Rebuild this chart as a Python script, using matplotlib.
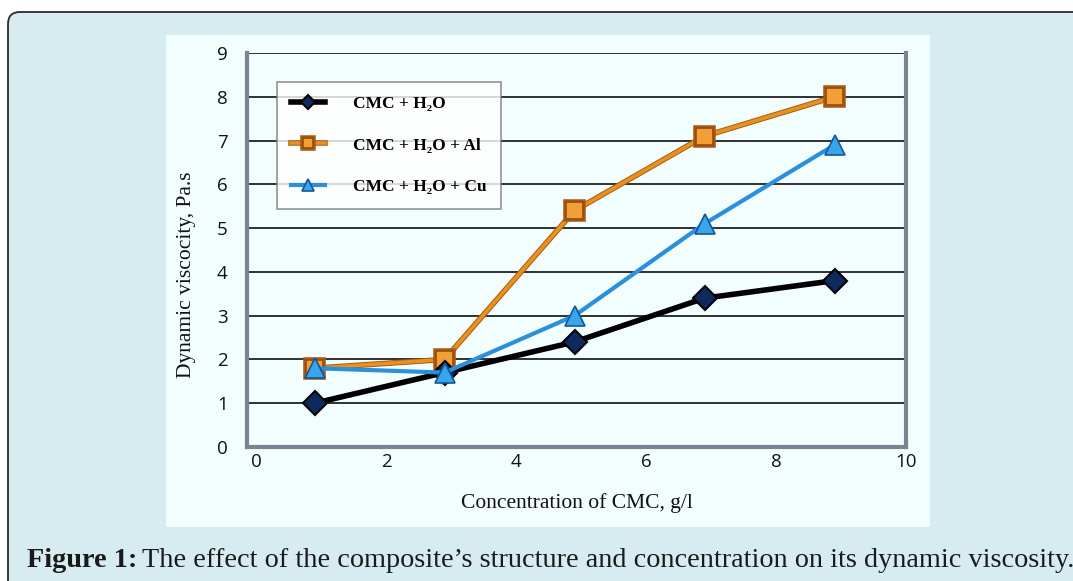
import matplotlib
matplotlib.use("Agg")
import matplotlib.pyplot as plt
import matplotlib.patheffects as pe
from matplotlib.patches import FancyBboxPatch, Rectangle
from matplotlib.transforms import IdentityTransform

# data
conc = [0.9, 2.9, 4.9, 6.9, 8.9]
visc_h2o = [1.0, 1.7, 2.4, 3.4, 3.8]
visc_al = [1.8, 2.0, 5.4, 7.1, 8.0]
visc_cu = [1.8, 1.7, 3.0, 5.1, 6.9]
labels = ["CMC + H₂O", "CMC + H₂O + Al", "CMC + H₂O + Cu"]
xticks = [0, 2, 4, 6, 8, 10]
yticks = list(range(10))

W, H = 1073, 581
fig = plt.figure(figsize=(W / 100, H / 100), dpi=100)
fig.patch.set_facecolor("white")

# outer rounded panel (pixel coords, origin bottom-left)
panel = FancyBboxPatch((8 + 12, -40), 1120, H - 12 - 12 + 40,
                       boxstyle="round,pad=12", transform=IdentityTransform(),
                       facecolor="#d7ecf1", edgecolor="#2a2a2a", lw=1.3, zorder=0)
fig.patches.append(panel)

# white-ish chart area
fig.patches.append(Rectangle((166 / W, 1 - 527 / H), (930 - 166) / W, (527 - 35) / H,
                             transform=fig.transFigure, facecolor="#f2fefe",
                             edgecolor="none", zorder=1))

ax = fig.add_axes([247 / W, 1 - 447 / H, (906 - 247) / W, (447 - 53) / H])
ax.set_facecolor("#f2fefe")
ax.set_zorder(2)

ax.plot(conc, visc_h2o, color="black", lw=4, marker="D", ms=12,
        mfc="#0e2a5c", mec="black", mew=1.5, label=labels[0], zorder=5)
ax.plot(conc, visc_al, color="#e8911f", lw=2.6, marker="s", ms=12,
        mfc="#f0a035", mec="#9a4a10", mew=1.2, label=labels[1], zorder=4,
        path_effects=[pe.Stroke(linewidth=4, foreground="#a85a12"), pe.Normal()])
ax.plot(conc, visc_cu, color="#2b8fdc", lw=3, marker="^", ms=14,
        mfc="#3aa6ea", mec="#12569a", mew=1.2, label=labels[2], zorder=6)

ax.set_xlim(-0.14, 10)
ax.set_ylim(0, 9)
ax.set_xticks(xticks)
ax.set_yticks(yticks)
ax.grid(axis="y", color="#2e3036", lw=1.4)
ax.set_axisbelow(True)
ax.tick_params(length=0, labelsize=13.5, colors="#111111")
for lab in ax.get_xticklabels() + ax.get_yticklabels():
    lab.set_family("Open Sans")
ax.tick_params(axis="y", pad=14)
ax.tick_params(axis="x", pad=4)

for side in ["left", "bottom", "right"]:
    ax.spines[side].set_color("#7b8292")
    ax.spines[side].set_linewidth(3)
ax.spines["top"].set_visible(False)

ax.set_xlabel("Concentration of CMC, g/l", family="Liberation Serif",
              fontsize=15.5, color="#111111", labelpad=16)
ax.set_ylabel("Dynamic viscocity, Pa.s", family="Liberation Serif",
              fontsize=15.5, color="#111111")
ax.yaxis.set_label_coords(-0.078, 0.437)

leg = ax.legend(loc="upper left", bbox_to_anchor=(0.045, 0.926),
                prop={"family": "Liberation Serif", "weight": "bold", "size": 12.5},
                frameon=True, fancybox=False, markerscale=0.6,
                handlelength=2.0, handletextpad=1.6, labelspacing=1.45,
                borderpad=0.8, borderaxespad=0)
leg.get_frame().set_edgecolor("#777777")
leg.get_frame().set_facecolor("white")
leg.get_frame().set_linewidth(1.2)
leg.set_zorder(10)

# caption with bold lead
r = fig.canvas.get_renderer()
t1 = fig.text(27 / W, 1 - 567 / H, "Figure 1:", fontsize=20.3, weight="bold",
              family="Liberation Serif", color="#1a1a1a", va="baseline")
bb = t1.get_window_extent(r)
fig.text((bb.x1 + 5) / W, 1 - 567 / H,
         "The effect of the composite’s structure and concentration on its dynamic viscosity.",
         fontsize=20.3, family="Liberation Serif", color="#1a1a1a", va="baseline")

fig.savefig("out.png", dpi=100, facecolor=fig.get_facecolor())
